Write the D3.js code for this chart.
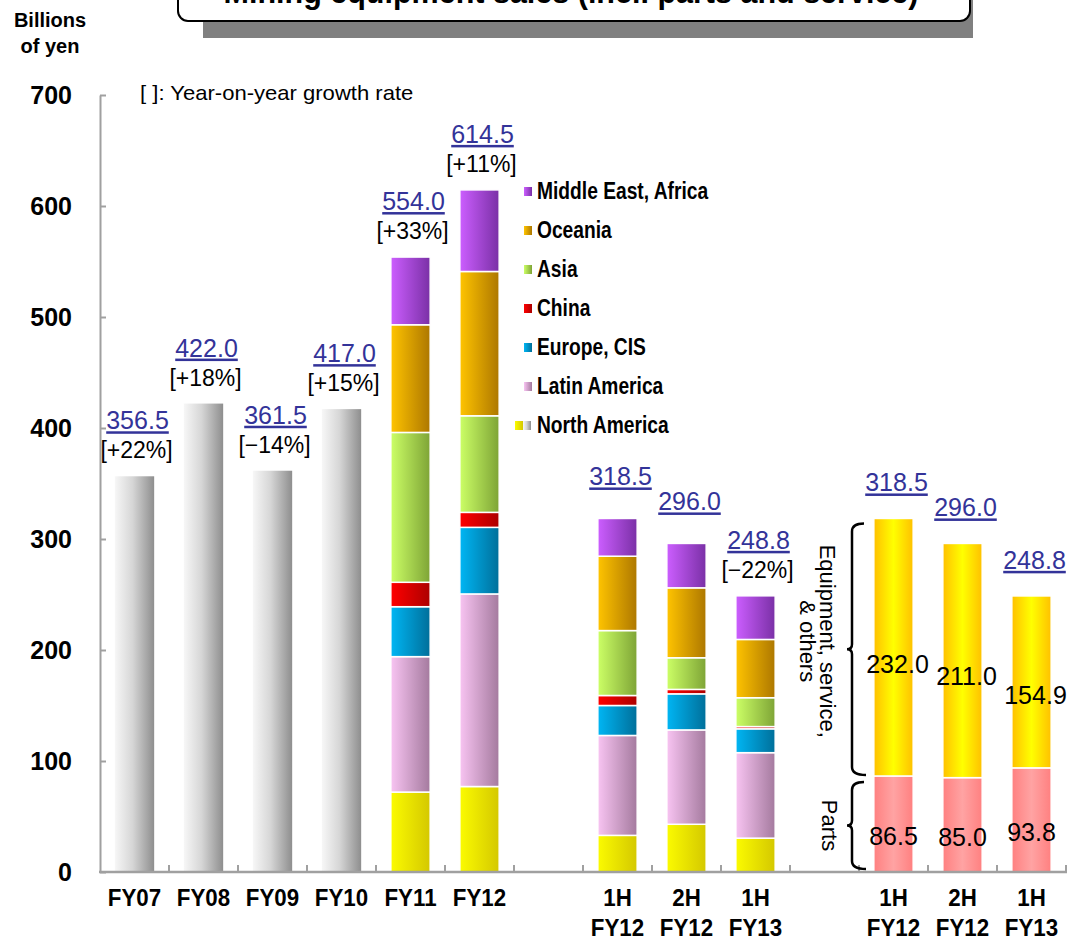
<!DOCTYPE html>
<html>
<head>
<meta charset="utf-8">
<script src="https://cdn.jsdelivr.net/npm/d3@7"></script>
<style>
  html, body { margin: 0; padding: 0; background: #fff; }
  svg { display: block; font-family: "Liberation Sans", Arial, sans-serif; }
</style>
</head>
<body>
<svg id="chart" width="1069" height="940"></svg>
<script>
// ---- data -------------------------------------------------------------
const slots = ["FY07", "FY08", "FY09", "FY10", "FY11", "FY12", "gapA",
  "1H FY12", "2H FY12", "1H FY13", "gapB",
  "1H FY12 split", "2H FY12 split", "1H FY13 split"];
const slotLabels = [["FY07"], ["FY08"], ["FY09"], ["FY10"], ["FY11"], ["FY12"], [],
  ["1H", "FY12"], ["2H", "FY12"], ["1H", "FY13"], [],
  ["1H", "FY12"], ["2H", "FY12"], ["1H", "FY13"]];
const yTicks = [0, 100, 200, 300, 400, 500, 600, 700];

// annual totals before the regional breakdown (billions of yen)
const grayYears = ["FY07", "FY08", "FY09", "FY10"];
const grayTotals = [356.5, 422.0, 361.5, 417.0];

// regional breakdown, bottom to top
const regions = ["North America", "Latin America", "Europe, CIS", "China", "Asia", "Oceania", "Middle East, Africa"];
const stackedSlots = ["FY11", "FY12", "1H FY12", "2H FY12", "1H FY13"];
const fy11Sales = [72, 122, 45, 22, 135, 97, 61];
const fy12Sales = [77, 173.5, 60, 13.5, 87, 130, 73.5];
const h1fy12Sales = [33, 90, 27, 9, 58.5, 67, 34];
const h2fy12Sales = [43, 85, 32.5, 4, 28.5, 63, 40];
const h1fy13Sales = [30.5, 77, 21.5, 2, 26, 52.5, 39.3];

// parts vs equipment split
const splitSlots = ["1H FY12 split", "2H FY12 split", "1H FY13 split"];
const partsSales = [86.5, 85.0, 93.8];
const equipmentSales = [232.0, 211.0, 154.9];

// total labels and year-on-year growth
const totalSlots = ["FY07", "FY08", "FY09", "FY10", "FY11", "FY12",
  "1H FY12", "2H FY12", "1H FY13", "1H FY12 split", "2H FY12 split", "1H FY13 split"];
const totalValues = [356.5, 422.0, 361.5, 417.0, 554.0, 614.5, 318.5, 296.0, 248.8, 318.5, 296.0, 248.8];
const growthLabels = ["+22%", "+18%", "\u221214%", "+15%", "+33%", "+11%", null, null, "\u221222%", null, null, null];

// ---- styles -----------------------------------------------------------
const regionShades = {
  "North America": ["#fbfb00", "#d4c800"],
  "Latin America": ["#f8c4f2", "#a47a9e"],
  "Europe, CIS": ["#00b6f4", "#006f9a"],
  "China": ["#ff0000", "#ac0000"],
  "Asia": ["#ccff66", "#7ea436"],
  "Oceania": ["#ffc400", "#ad7700"],
  "Middle East, Africa": ["#cc5eff", "#7a30a6"]
};

const svg = d3.select("#chart");
const defs = svg.append("defs");

function hGradient(id, stops) {
  const g = defs.append("linearGradient").attr("id", id)
    .attr("x1", 0).attr("x2", 1).attr("y1", 0).attr("y2", 0);
  stops.forEach(([o, c]) => g.append("stop").attr("offset", o).attr("stop-color", c));
  return `url(#${id})`;
}
// narrows a text run horizontally to a share of its natural width
function squeeze(sel, f) {
  sel.each(function () {
    const w = this.getComputedTextLength();
    d3.select(this).attr("textLength", w * f).attr("lengthAdjust", "spacingAndGlyphs");
  });
}

const regionFill = {};
regions.forEach((r, i) => {
  const [a, b] = regionShades[r];
  regionFill[r] = hGradient("reg" + i, [[0, a], [1, b]]);
});
const grayFill = hGradient("grayBar", [[0, "#f7f7f7"], [0.45, "#d6d6d6"], [1, "#8e8e8e"]]);
const equipFill = hGradient("equipBar", [[0, "#ffc000"], [0.5, "#ffff00"], [1, "#ffc000"]]);
const partsFill = hGradient("partsBar", [[0, "#ff8080"], [0.5, "#ffa3a3"], [1, "#ff8080"]]);

// ---- scales -----------------------------------------------------------
const x = d3.scaleBand().domain(slots).range([100, 1066]).paddingInner(0.43).paddingOuter(0.215);
const y = d3.scaleLinear().domain([0, 700]).range([872, 95]);
const cx = s => x(s) + x.bandwidth() / 2;

// ---- title ------------------------------------------------------------
svg.append("rect").attr("x", 203).attr("y", -20).attr("width", 770).attr("height", 58).attr("fill", "#808080");
svg.append("rect").attr("x", 178).attr("y", -30).attr("width", 792).attr("height", 51)
  .attr("rx", 10).attr("fill", "#fff").attr("stroke", "#000").attr("stroke-width", 2);
svg.append("text").attr("x", 571).attr("y", 3).attr("text-anchor", "middle")
  .attr("font-size", 30.5).attr("font-weight", "bold").text("Mining equipment sales (incl. parts and service)");

// unit label
svg.append("text").attr("x", 50).attr("y", 27).attr("text-anchor", "middle")
  .attr("font-size", 20).attr("font-weight", "bold").text("Billions");
svg.append("text").attr("x", 50).attr("y", 53).attr("text-anchor", "middle")
  .attr("font-size", 20).attr("font-weight", "bold").text("of yen");

svg.append("text").attr("x", 140).attr("y", 100).attr("font-size", 21)
  .text("[ ]: Year-on-year growth rate").call(squeeze, 1.05);

// ---- axes -------------------------------------------------------------
const yAxis = svg.append("g").attr("transform", "translate(100,0)")
  .call(d3.axisLeft(y).tickValues(yTicks).tickSizeInner(-6).tickSizeOuter(0).tickPadding(28));
yAxis.select(".domain").attr("stroke", "#a0a0a0").attr("stroke-width", 2);
yAxis.selectAll(".tick line").attr("stroke", "#a0a0a0").attr("stroke-width", 2);
yAxis.selectAll(".tick text").attr("font-size", 25).attr("font-weight", "bold")
  .attr("font-family", "'Liberation Sans', Arial, sans-serif").attr("fill", "#000");

// ---- bars -------------------------------------------------------------
// gray annual bars
svg.append("g").selectAll("rect").data(grayYears).join("rect")
  .attr("x", d => x(d)).attr("width", x.bandwidth())
  .attr("y", (d, i) => y(grayTotals[i])).attr("height", (d, i) => y(0) - y(grayTotals[i]))
  .attr("fill", grayFill);

// regional stacks
const stackRows = [fy11Sales, fy12Sales, h1fy12Sales, h2fy12Sales, h1fy13Sales].map((vals, i) => {
  const row = { slot: stackedSlots[i] };
  regions.forEach((r, j) => row[r] = vals[j]);
  return row;
});
const series = d3.stack().keys(regions)(stackRows);
svg.append("g").selectAll("g").data(series).join("g")
  .attr("fill", s => regionFill[s.key])
  .selectAll("rect").data(s => s).join("rect")
  .attr("x", d => x(d.data.slot)).attr("width", x.bandwidth())
  .attr("y", d => y(d[1])).attr("height", d => y(d[0]) - y(d[1]))
  .attr("stroke", "#fff").attr("stroke-width", 1.5);

// parts / equipment stacks
const splitRows = splitSlots.map((s, i) => ({ slot: s, Parts: partsSales[i], Equipment: equipmentSales[i] }));
const splitSeries = d3.stack().keys(["Parts", "Equipment"])(splitRows);
const splitFill = { Parts: partsFill, Equipment: equipFill };
svg.append("g").selectAll("g").data(splitSeries).join("g")
  .attr("fill", s => splitFill[s.key])
  .selectAll("rect").data(s => s).join("rect")
  .attr("x", d => x(d.data.slot)).attr("width", x.bandwidth())
  .attr("y", d => y(d[1])).attr("height", d => y(d[0]) - y(d[1]))
  .attr("stroke", "#fff").attr("stroke-width", 1.5);

// values inside the split bars
splitRows.forEach((r, i) => {
  svg.append("text").attr("x", cx(r.slot) + 4).attr("y", y(r.Parts + r.Equipment / 2) + 26 - i * 2)
    .attr("text-anchor", "middle").attr("font-size", 25).text(d3.format(".1f")(r.Equipment));
  svg.append("text").attr("x", cx(r.slot)).attr("y", y(r.Parts / 2) + 21)
    .attr("text-anchor", "middle").attr("font-size", 25).text(d3.format(".1f")(r.Parts));
});

// x axis line and boundary ticks
const xAxisG = svg.append("g");
xAxisG.append("line").attr("x1", 99).attr("x2", 1067).attr("y1", y(0)).attr("y2", y(0))
  .attr("stroke", "#a0a0a0").attr("stroke-width", 2.5);
xAxisG.selectAll("line.tick").data(slots).join("line").attr("class", "tick")
  .attr("x1", (d, i) => 100 + x.step() * (i + 1)).attr("x2", (d, i) => 100 + x.step() * (i + 1))
  .attr("y1", y(0)).attr("y2", y(0) - 7).attr("stroke", "#a0a0a0").attr("stroke-width", 2);

// category labels
slots.forEach((s, i) => {
  slotLabels[i].forEach((line, k) => {
    svg.append("text").attr("x", cx(s)).attr("y", 906 + k * 30)
      .attr("text-anchor", "middle").attr("font-size", 24).attr("font-weight", "bold").text(line)
      .call(squeeze, 0.93);
  });
});

// totals and growth rates
totalSlots.forEach((s, i) => {
  const top = y(totalValues[i]);
  const g = growthLabels[i];
  const split = splitSlots.includes(s);
  const valueY = g ? top - 47 : (split ? top - 27 : top - 33);
  svg.append("text").attr("x", cx(s) + 3).attr("y", valueY).attr("text-anchor", "middle")
    .attr("font-size", 25).attr("fill", "#333399").attr("text-decoration", "underline")
    .text(d3.format(".1f")(totalValues[i]));
  if (g) {
    svg.append("text").attr("x", cx(s) + 2).attr("y", top - 18).attr("text-anchor", "middle")
      .attr("font-size", 23).attr("fill", "#000").text(`[${g}]`);
  }
});

// ---- legend -----------------------------------------------------------
const legend = svg.append("g");
regions.slice().reverse().forEach((r, i) => {
  const base = 199 + i * 39;
  if (r === "North America") {
    legend.append("rect").attr("x", 515).attr("y", base - 12).attr("width", 8).attr("height", 9).attr("fill", regionFill[r]);
    legend.append("rect").attr("x", 523).attr("y", base - 12).attr("width", 8).attr("height", 9).attr("fill", grayFill);
  } else {
    legend.append("rect").attr("x", 524).attr("y", base - 12).attr("width", 8).attr("height", 9).attr("fill", regionFill[r]);
  }
  legend.append("text").attr("x", 537).attr("y", base).attr("font-size", 23).attr("font-weight", "bold").text(r)
    .call(squeeze, 0.835);
});

// ---- brace for the parts / equipment split ----------------------------
const bx = x(slots[11]) - x.step() * x.paddingInner() / 2 - 7;
function brace(top, bot) {
  const mid = (top + bot) / 2;
  return `M${bx + 12},${top} Q${bx},${top} ${bx},${top + 8} L${bx},${mid - 5} Q${bx},${mid} ${bx - 5},${mid}` +
    ` Q${bx},${mid} ${bx},${mid + 5} L${bx},${bot - 8} Q${bx},${bot} ${bx + 14},${bot}`;
}
const upperTop = y(partsSales[0] + equipmentSales[0]) + 5, upperBot = y(partsSales[0]) - 1;
const lowerTop = y(partsSales[0]) + 6, lowerBot = y(0) - 3;
svg.append("path").attr("d", brace(upperTop, upperBot)).attr("fill", "none").attr("stroke", "#000").attr("stroke-width", 2.5);
svg.append("path").attr("d", brace(lowerTop, lowerBot)).attr("fill", "none").attr("stroke", "#000").attr("stroke-width", 2.5);

const upperMid = (upperTop + upperBot) / 2 - 8;
svg.append("text").attr("transform", `translate(${bx - 32},${upperMid}) rotate(90)`)
  .attr("text-anchor", "middle").attr("font-size", 22).text("Equipment, service,");
svg.append("text").attr("transform", `translate(${bx - 52},${upperMid}) rotate(90)`)
  .attr("text-anchor", "middle").attr("font-size", 22).text("& others");
svg.append("text").attr("transform", `translate(${bx - 30},${(lowerTop + lowerBot) / 2}) rotate(90)`)
  .attr("text-anchor", "middle").attr("font-size", 22).text("Parts");
</script>
</body>
</html>
